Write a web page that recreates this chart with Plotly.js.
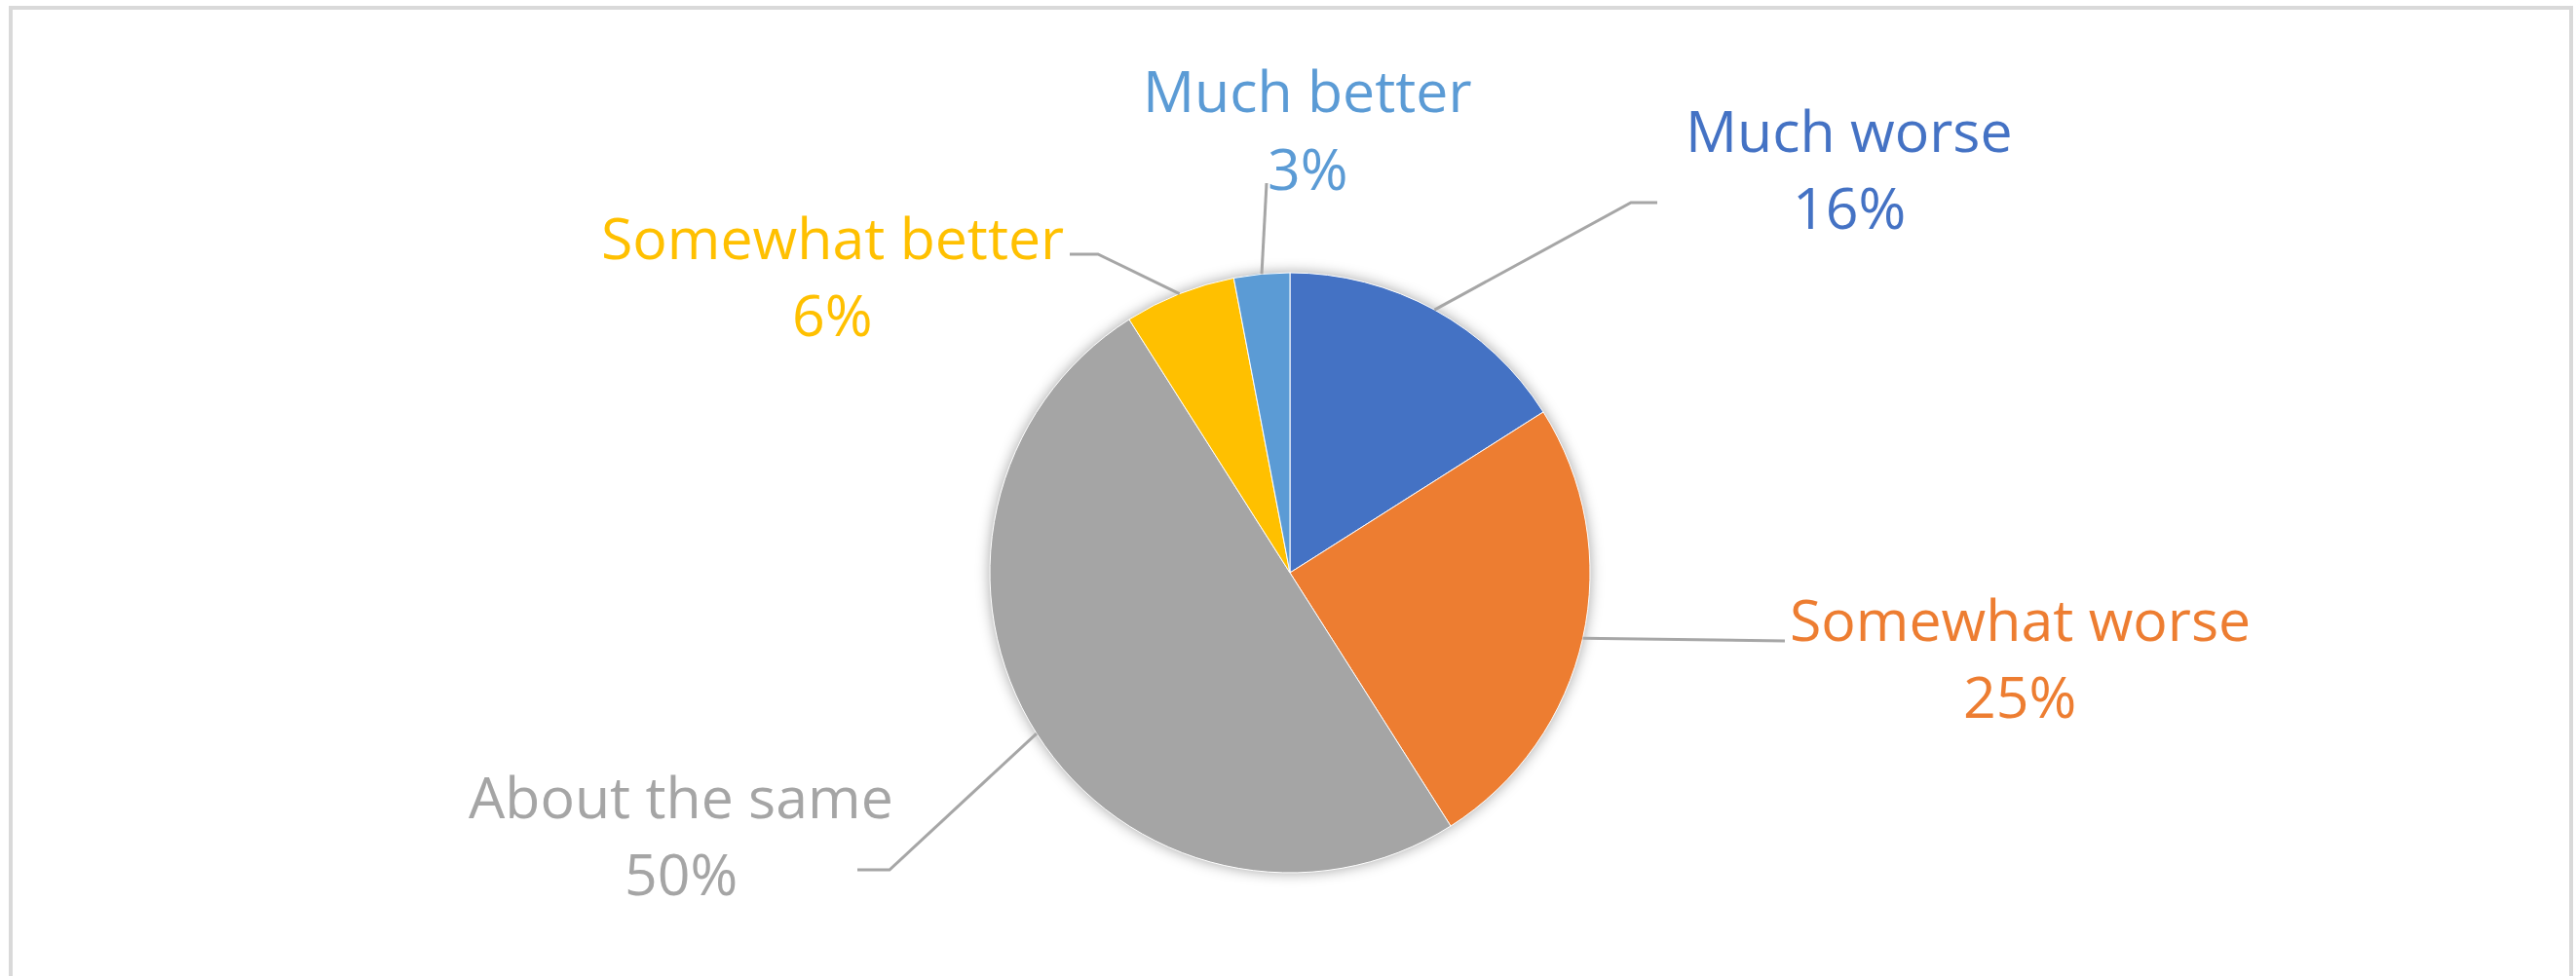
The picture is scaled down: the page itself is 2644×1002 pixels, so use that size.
<!DOCTYPE html>
<html>
<head>
<meta charset="utf-8">
<script src="https://cdn.plot.ly/plotly-3.0.1.min.js"></script>
<style>
  html, body { margin: 0; padding: 0; background: #ffffff; }
  #chart { width: 2644px; height: 1002px; }
  .pielayer .trace { filter: drop-shadow(0px 0px 7px rgba(0,0,0,0.35)); }
</style>
</head>
<body>
<div id="chart"></div>
<script>
// ---- data ----
const categories = ["Much worse", "Somewhat worse", "About the same", "Somewhat better", "Much better"];
const values = [16, 25, 50, 6, 3];
const sliceColors = ["#4472C4", "#ED7D31", "#A5A5A5", "#FFC000", "#5B9BD5"];

// ---- layout helpers (pixel -> paper) ----
const W = 2644, H = 1002;
const px = x => x / W;
const py = y => 1 - y / H;

// pie geometry (pixels)
const CX = 1324, CY = 588, R = 308;

// label placement (pixel centres of name / percent lines) and leader elbows
const labelPos = [
  { x: 1898, yName: 133, yPct: 212, elbow: [[1674, 208], [1701, 208]] },
  { x: 2073, yName: 635, yPct: 714, elbow: [[1832, 658]] },
  { x: 699,  yName: 817, yPct: 896, elbow: [[913, 893], [880, 893]] },
  { x: 854,  yName: 243, yPct: 322, elbow: [[1127, 261], [1098, 261]] },
  { x: 1342, yName: 92,  yPct: 172, elbow: [[1300, 188]] }
];

const total = values.reduce((a, b) => a + b, 0);
const fontFamily = "'Open Sans', 'Noto Sans', sans-serif";
const annotations = [];
const shapes = [];
let cum = 0;
values.forEach((v, i) => {
  const mid = (cum + v / 2) / total * 2 * Math.PI; // clockwise from 12 o'clock
  cum += v;
  const sx = CX + R * Math.sin(mid);
  const sy = CY - R * Math.cos(mid);
  const lp = labelPos[i];
  const pct = Math.round(v / total * 100) + "%";
  annotations.push({
    xref: "paper", yref: "paper", x: px(lp.x), y: py(lp.yName),
    xanchor: "center", yanchor: "middle", showarrow: false,
    text: categories[i], font: { family: fontFamily, size: 59, color: sliceColors[i] }
  });
  annotations.push({
    xref: "paper", yref: "paper", x: px(lp.x), y: py(lp.yPct),
    xanchor: "center", yanchor: "middle", showarrow: false,
    text: pct, font: { family: fontFamily, size: 59, color: sliceColors[i] }
  });
  let path = "M " + px(sx) + "," + py(sy);
  lp.elbow.forEach(p => { path += " L " + px(p[0]) + "," + py(p[1]); });
  shapes.push({
    type: "path", xref: "paper", yref: "paper", path: path,
    line: { color: "#A6A6A6", width: 3 }
  });
});

// chart frame
shapes.push({
  type: "rect", xref: "paper", yref: "paper",
  x0: px(11), x1: px(2639), y0: py(1012), y1: py(8),
  line: { color: "#D9D9D9", width: 4 }, fillcolor: "rgba(0,0,0,0)", layer: "below"
});

const trace = {
  type: "pie",
  labels: categories,
  values: values,
  sort: false,
  direction: "clockwise",
  rotation: 0,
  textinfo: "none",
  hoverinfo: "label+percent",
  marker: { colors: sliceColors, line: { color: "#FFFFFF", width: 1 } },
  domain: { x: [px(CX - R), px(CX + R)], y: [py(CY + R), py(CY - R)] }
};

Plotly.newPlot("chart", [trace], {
  width: W, height: H,
  margin: { l: 0, r: 0, t: 0, b: 0 },
  paper_bgcolor: "#FFFFFF",
  showlegend: false,
  annotations: annotations,
  shapes: shapes,
  font: { family: fontFamily }
}, { displayModeBar: false, staticPlot: true });
</script>
</body>
</html>
